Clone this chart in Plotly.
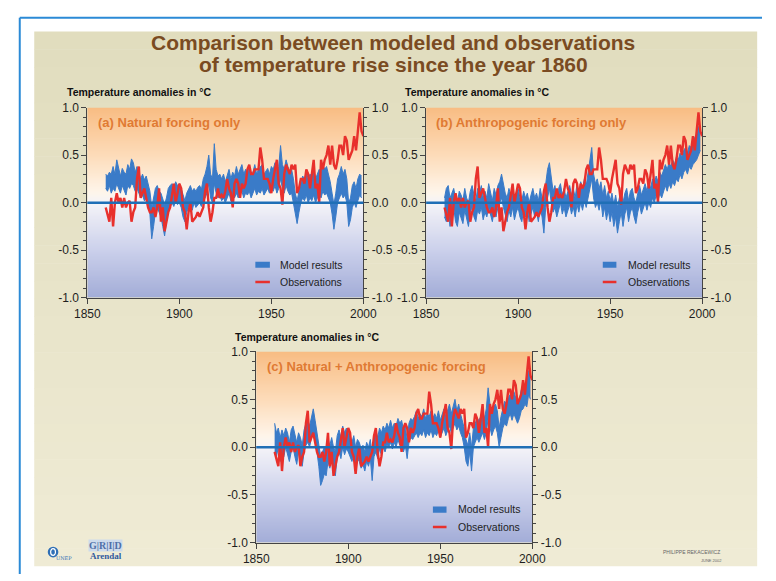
import plotly.graph_objects as go

# ---------------- data ----------------
years = list(range(1860, 2000))
obs_years = list(range(1860, 2001))

observations = [
    -0.05, -0.12, -0.20, 0.05, -0.25, 0.00, 0.10, 0.00, 0.05, -0.05,
    0.05, -0.05, 0.00, 0.02, -0.20, -0.10, -0.05, 0.25, 0.38, 0.05,
    0.10, 0.15, 0.05, -0.05, -0.10, -0.10, -0.05, -0.15, -0.05, 0.15,
    -0.20, -0.05, -0.30, -0.20, -0.10, -0.05, 0.10, 0.20, 0.00, 0.10,
    0.20, 0.15, -0.05, -0.10, -0.28, -0.10, 0.00, -0.20, -0.18, -0.15,
    -0.10, -0.15, -0.10, -0.05, 0.12, 0.20, -0.05, -0.20, -0.10, 0.05,
    0.05, 0.15, 0.05, 0.08, 0.05, 0.12, 0.25, 0.15, 0.10, -0.05,
    0.20, 0.25, 0.20, 0.05, 0.20, 0.15, 0.20, 0.35, 0.40, 0.30,
    0.30, 0.35, 0.35, 0.35, 0.58, 0.45, 0.25, 0.25, 0.25, 0.20,
    0.10, 0.25, 0.35, 0.45, 0.20, 0.15, -0.02, 0.30, 0.40, 0.35,
    0.30, 0.40, 0.35, 0.40, 0.10, 0.15, 0.25, 0.25, 0.20, 0.35,
    0.30, 0.15, 0.30, 0.45, 0.15, 0.20, 0.00, 0.45, 0.35, 0.45,
    0.50, 0.60, 0.40, 0.60, 0.40, 0.35, 0.45, 0.60, 0.60, 0.50,
    0.70, 0.65, 0.45, 0.50, 0.55, 0.70, 0.55, 0.75, 0.95, 0.75,
    0.70,
]

natural_low = [
    0.15, 0.12, 0.18, 0.10, 0.15, 0.12, 0.20, 0.15, 0.10, 0.18,
    0.12, 0.08, 0.18, 0.15, 0.20, 0.18, 0.12, 0.15, 0.10, 0.05,
    0.08, 0.02, 0.05, 0.00, -0.12, -0.38, -0.25, -0.10, -0.05, -0.10,
    -0.15, -0.25, -0.35, -0.20, -0.08, -0.05, 0.00, -0.04, 0.02, -0.02,
    0.00, -0.05, -0.15, -0.20, -0.10, -0.05, -0.02, -0.08, 0.00, -0.05,
    -0.02, 0.00, -0.04, 0.02, 0.05, 0.10, 0.20, 0.05, 0.00, 0.20,
    0.10, 0.05, 0.08, 0.02, 0.05, 0.00, 0.05, 0.10, 0.02, 0.08,
    0.05, 0.10, 0.05, 0.08, 0.12, 0.05, 0.10, 0.08, 0.12, 0.05,
    0.10, 0.15, 0.08, 0.12, 0.10, 0.15, 0.08, 0.12, 0.15, 0.10,
    0.15, 0.12, 0.18, 0.10, 0.15, 0.25, 0.15, 0.10, 0.18, 0.12,
    0.08, 0.10, 0.00, -0.10, -0.22, -0.10, 0.00, 0.05, 0.02, 0.08,
    0.00, 0.05, 0.02, 0.08, 0.00, 0.05, 0.10, 0.05, 0.12, 0.08,
    0.10, 0.05, 0.00, -0.12, -0.28, -0.15, 0.00, 0.05, 0.10, 0.05,
    0.08, 0.00, -0.25, -0.18, -0.05, 0.00, -0.05, 0.02, 0.08, 0.05,
]
natural_high = [
    0.30, 0.28, 0.32, 0.30, 0.38, 0.30, 0.45, 0.35, 0.28, 0.36,
    0.32, 0.30, 0.40, 0.35, 0.46, 0.42, 0.32, 0.38, 0.30, 0.25,
    0.30, 0.24, 0.28, 0.20, 0.12, -0.05, 0.05, 0.15, 0.18, 0.12,
    0.10, 0.05, -0.02, 0.05, 0.15, 0.18, 0.20, 0.16, 0.22, 0.18,
    0.20, 0.15, 0.08, 0.02, 0.10, 0.15, 0.18, 0.12, 0.15, 0.12,
    0.16, 0.18, 0.14, 0.25, 0.30, 0.38, 0.50, 0.30, 0.25, 0.62,
    0.35, 0.28, 0.30, 0.25, 0.30, 0.22, 0.30, 0.35, 0.25, 0.32,
    0.28, 0.38, 0.30, 0.35, 0.40, 0.30, 0.35, 0.30, 0.38, 0.28,
    0.32, 0.40, 0.30, 0.35, 0.38, 0.40, 0.30, 0.33, 0.36, 0.30,
    0.38, 0.35, 0.42, 0.32, 0.38, 0.60, 0.40, 0.35, 0.45, 0.38,
    0.32, 0.35, 0.25, 0.10, 0.02, 0.12, 0.22, 0.28, 0.25, 0.32,
    0.25, 0.30, 0.28, 0.35, 0.25, 0.30, 0.35, 0.32, 0.40, 0.35,
    0.38, 0.30, 0.22, 0.10, -0.02, 0.10, 0.25, 0.30, 0.38, 0.30,
    0.35, 0.25, 0.00, 0.05, 0.18, 0.22, 0.15, 0.25, 0.30, 0.28,
]

anthro_low = [
    -0.15, -0.20, -0.10, -0.25, -0.15, -0.05, -0.20, -0.25, -0.10, -0.15,
    -0.22, -0.08, -0.18, -0.25, -0.10, -0.05, -0.15, -0.20, -0.08, -0.12,
    -0.05, -0.18, -0.10, -0.15, -0.05, -0.12, -0.20, -0.08, -0.15, -0.05,
    0.00, 0.05, -0.05, -0.12, -0.20, -0.08, -0.15, -0.05, -0.18, -0.10,
    -0.05, -0.15, -0.20, -0.08, -0.15, -0.05, -0.20, -0.12, -0.05, -0.15,
    -0.10, -0.20, -0.05, -0.15, -0.32, -0.05, 0.05, 0.15, 0.00, -0.10,
    -0.05, -0.15, -0.08, 0.00, -0.12, -0.05, -0.15, -0.08, -0.02, -0.12,
    -0.05, -0.15, -0.02, -0.10, 0.00, -0.08, 0.02, -0.05, 0.05, 0.15,
    0.25, 0.05, -0.05, 0.00, -0.08, 0.02, -0.15, -0.05, -0.18, -0.08,
    -0.20, -0.10, -0.25, -0.15, -0.32, -0.20, -0.10, -0.25, -0.12, -0.05,
    -0.20, -0.10, -0.05, -0.15, -0.22, -0.10, -0.02, -0.12, -0.05, 0.00,
    -0.08, 0.00, -0.05, 0.05, 0.00, 0.08, 0.02, 0.10, 0.05, 0.12,
    0.18, 0.12, 0.20, 0.15, 0.22, 0.18, 0.25, 0.22, 0.30, 0.25,
    0.32, 0.35, 0.30, 0.38, 0.35, 0.40, 0.42, 0.45, 0.50, 0.55,
]
anthro_high = [
    0.05, 0.15, 0.18, 0.05, 0.10, 0.15, 0.05, 0.00, 0.12, 0.08,
    0.02, 0.15, 0.05, 0.00, 0.12, 0.18, 0.08, 0.02, 0.15, 0.10,
    0.18, 0.05, 0.12, 0.05, 0.20, 0.10, 0.02, 0.15, 0.08, 0.18,
    0.22, 0.30, 0.20, 0.10, 0.05, 0.15, 0.08, 0.15, 0.05, 0.10,
    0.15, 0.05, 0.02, 0.12, 0.05, 0.10, 0.00, 0.08, 0.15, 0.05,
    0.10, 0.02, 0.15, 0.05, -0.05, 0.20, 0.35, 0.42, 0.25, 0.12,
    0.18, 0.05, 0.15, 0.20, 0.08, 0.15, 0.05, 0.12, 0.18, 0.08,
    0.15, 0.05, 0.20, 0.10, 0.22, 0.15, 0.25, 0.18, 0.30, 0.45,
    0.58, 0.30, 0.20, 0.25, 0.15, 0.22, 0.08, 0.18, 0.05, 0.12,
    0.02, 0.10, -0.02, 0.08, -0.05, 0.05, 0.12, 0.00, 0.10, 0.15,
    0.02, 0.12, 0.15, 0.05, 0.00, 0.10, 0.18, 0.08, 0.15, 0.20,
    0.12, 0.22, 0.15, 0.25, 0.20, 0.28, 0.22, 0.32, 0.28, 0.35,
    0.40, 0.35, 0.42, 0.38, 0.45, 0.40, 0.48, 0.45, 0.52, 0.48,
    0.55, 0.58, 0.52, 0.60, 0.58, 0.65, 0.68, 0.72, 0.80, 0.78,
]

combined_low = [
    -0.05, -0.10, 0.00, -0.15, -0.05, -0.10, 0.00, -0.08, -0.15, -0.05,
    0.00, -0.10, -0.18, -0.05, -0.12, -0.20, -0.05, 0.02, 0.05, 0.00,
    0.10, 0.15, 0.05, -0.05, -0.20, -0.40, -0.35, -0.28, -0.30, -0.15,
    -0.22, -0.12, -0.25, -0.30, -0.10, -0.05, -0.12, 0.00, -0.08, -0.02,
    -0.05, -0.10, -0.15, -0.08, -0.20, -0.12, -0.15, -0.22, -0.18, -0.25,
    -0.15, -0.20, -0.12, -0.35, -0.10, -0.05, -0.12, -0.02, -0.08, 0.00,
    -0.05, 0.02, 0.00, 0.05, -0.02, 0.05, 0.00, 0.08, 0.02, 0.05,
    -0.05, 0.02, -0.12, 0.05, 0.10, 0.08, 0.12, 0.15, 0.10, 0.15,
    0.12, 0.18, 0.10, 0.15, 0.12, 0.18, 0.10, 0.15, 0.12, 0.18,
    0.10, 0.15, 0.20, 0.12, 0.18, 0.22, 0.15, 0.20, 0.25, 0.18,
    0.22, 0.15, 0.10, 0.00, -0.15, -0.20, -0.05, -0.25, 0.00, 0.05,
    0.10, 0.05, 0.10, 0.15, 0.08, 0.15, 0.30, 0.20, 0.12, 0.18,
    0.22, 0.15, 0.00, 0.10, 0.20, 0.25, 0.22, 0.30, 0.35, 0.28,
    0.35, 0.30, 0.25, 0.30, 0.38, 0.40, 0.45, 0.42, 0.55, 0.50,
]
combined_high = [
    0.25, 0.15, 0.20, 0.10, 0.18, 0.12, 0.20, 0.15, 0.05, 0.18,
    0.22, 0.12, 0.05, 0.15, 0.10, 0.02, 0.18, 0.25, 0.28, 0.22,
    0.32, 0.40, 0.28, 0.15, 0.02, -0.10, -0.05, 0.00, -0.02, 0.08,
    0.02, 0.10, 0.00, -0.05, 0.12, 0.18, 0.10, 0.22, 0.15, 0.20,
    0.15, 0.12, 0.05, 0.12, 0.00, 0.08, 0.05, -0.02, 0.02, -0.05,
    0.05, 0.00, 0.08, -0.10, 0.12, 0.18, 0.10, 0.20, 0.15, 0.22,
    0.18, 0.25, 0.20, 0.28, 0.20, 0.25, 0.22, 0.30, 0.25, 0.28,
    0.18, 0.22, 0.08, 0.25, 0.30, 0.28, 0.32, 0.38, 0.30, 0.35,
    0.32, 0.40, 0.30, 0.35, 0.32, 0.38, 0.30, 0.35, 0.30, 0.38,
    0.28, 0.35, 0.40, 0.32, 0.38, 0.45, 0.35, 0.42, 0.50, 0.38,
    0.45, 0.35, 0.28, 0.20, 0.08, 0.02, 0.15, 0.00, 0.20, 0.25,
    0.30, 0.28, 0.32, 0.38, 0.30, 0.40, 0.62, 0.45, 0.35, 0.42,
    0.45, 0.38, 0.20, 0.32, 0.42, 0.48, 0.45, 0.52, 0.55, 0.50,
    0.58, 0.52, 0.45, 0.50, 0.60, 0.62, 0.65, 0.70, 0.80, 0.75,
]

panel_titles = [
    "(a) Natural forcing only",
    "(b) Anthropogenic forcing only",
    "(c) Natural + Anthropogenic forcing",
]
y_axis_title = "Temperature anomalies in °C"
legend_labels = ["Model results", "Observations"]
y_tick_values = [-1.0, -0.5, 0.0, 0.5, 1.0]
y_tick_labels = ["-1.0", "-0.5", "0.0", "0.5", "1.0"]
x_tick_values = [1850, 1900, 1950, 2000]
x_tick_labels = ["1850", "1900", "1950", "2000"]
title_lines = [
    "Comparison between modeled and observations",
    "of temperature rise since the year 1860",
]

# ---------------- styling ----------------
W, H = 776, 581
BLUE = "#3a7bc8"
RED = "#e8302c"
ZERO = "#1f6fb6"
AXIS = "#444444"
TXT = "#1e1e1e"
FONT = "Liberation Sans, Arial, sans-serif"


def px(x):
    return x / W


def py(y):
    return 1 - y / H


panels = [
    dict(low=natural_low, high=natural_high, x0=77, x1=363, y0=103, y1=298,
         lab=(54, 87), leg=(1941.3, 1949.2, 1953.8)),
    dict(low=anthro_low, high=anthro_high, x0=428, x1=714, y0=103, y1=298,
         lab=(404, 87), leg=(1946.0, 1953.4, 1958.5)),
    dict(low=combined_low, high=combined_high, x0=252, x1=538, y0=353, y1=549,
         lab=(228, 338), leg=(1946.0, 1953.4, 1958.5)),
]

# background gradient for plot areas
grad_y = [k / 20 - 1 for k in range(41)]
bg_scale = [
    [0.0, "#a2acd7"], [0.25, "#cbd0eb"], [0.5, "#f5f4f8"],
    [0.56, "#fef5ea"], [0.75, "#fddcba"], [1.0, "#f8bd84"],
]

fig = go.Figure()
layout_axes = {}
shapes = []
annotations = []

# outer page decoration: beige panel with vertical gradient
n_strips = 30
top_c = (225, 221, 190)
bot_c = (239, 235, 213)
y_top, y_bot = 25, 573
for k in range(n_strips):
    t = k / (n_strips - 1)
    c = tuple(round(top_c[j] + (bot_c[j] - top_c[j]) * t) for j in range(3))
    ya = y_top + (y_bot - y_top) * k / n_strips
    yb = y_top + (y_bot - y_top) * (k + 1) / n_strips + 0.5
    shapes.append(dict(type="rect", xref="paper", yref="paper",
                       x0=px(22), x1=px(771), y0=py(min(yb, y_bot)), y1=py(ya),
                       fillcolor=f"rgb{c}", line=dict(width=0), layer="below"))
# blue frame lines
shapes.append(dict(type="line", xref="paper", yref="paper", x0=px(7), x1=px(7),
                   y0=0, y1=py(11), line=dict(color="#2b8ad6", width=2), layer="below"))
shapes.append(dict(type="line", xref="paper", yref="paper", x0=px(7), x1=1,
                   y0=py(11), y1=py(11), line=dict(color="#2b8ad6", width=2), layer="below"))

for i, p in enumerate(panels, start=1):
    s = "" if i == 1 else str(i)
    xr, yr, yr_right = f"x{s}", f"y{s}", f"y{i + 3}"

    fig.add_trace(go.Heatmap(
        x=[1850, 2000], y=grad_y, z=[[v, v] for v in grad_y],
        colorscale=bg_scale, zmin=-1, zmax=1, zsmooth="best",
        showscale=False, hoverinfo="skip", xaxis=xr, yaxis=yr))
    fig.add_trace(go.Scatter(
        x=years, y=p["low"], mode="lines", line=dict(color=BLUE, width=1),
        showlegend=False, hoverinfo="skip", xaxis=xr, yaxis=yr))
    fig.add_trace(go.Scatter(
        x=years, y=p["high"], mode="lines", line=dict(color=BLUE, width=1),
        fill="tonexty", fillcolor=BLUE,
        showlegend=False, hoverinfo="skip", xaxis=xr, yaxis=yr))
    fig.add_trace(go.Scatter(
        x=obs_years, y=observations, mode="lines",
        line=dict(color=RED, width=2.4),
        showlegend=False, hoverinfo="skip", xaxis=xr, yaxis=yr))
    fig.add_trace(go.Scatter(
        x=[1850], y=[0], mode="markers", marker=dict(opacity=0),
        showlegend=False, hoverinfo="skip", xaxis=xr, yaxis=yr_right))

    common_y = dict(
        range=[-1, 1], tickmode="array", tickvals=y_tick_values, ticktext=y_tick_labels,
        ticks="outside", ticklen=5, tickwidth=1, tickcolor=AXIS,
        minor=dict(tickmode="linear", tick0=0, dtick=0.1, ticks="outside",
                   ticklen=3, tickwidth=1, tickcolor=AXIS, showgrid=False),
        showline=True, linecolor=AXIS, linewidth=1,
        showgrid=False, zeroline=False, fixedrange=True,
        tickfont=dict(family=FONT, size=12, color=TXT),
    )
    layout_axes[f"xaxis{s}"] = dict(
        domain=[px(p["x0"]), px(p["x1"])], anchor=yr, range=[1850, 2000],
        tickmode="array", tickvals=x_tick_values, ticktext=x_tick_labels,
        ticks="outside", ticklen=5, tickwidth=1, tickcolor=AXIS,
        showline=True, linecolor=AXIS, linewidth=1,
        showgrid=False, zeroline=False, fixedrange=True,
        tickfont=dict(family=FONT, size=12, color=TXT),
    )
    layout_axes[f"yaxis{s}"] = dict(domain=[py(p["y1"]), py(p["y0"])], anchor=xr, **common_y)
    layout_axes[f"yaxis{i + 3}"] = dict(overlaying=yr, side="right", anchor=xr, **common_y)

    # zero line above data
    shapes.append(dict(type="line", xref=f"{xr} domain", yref=yr, x0=0, x1=1, y0=0, y1=0,
                       line=dict(color=ZERO, width=2.5), layer="above"))
    # legend
    lx0, lx1, ltx = p["leg"]
    shapes.append(dict(type="rect", xref=xr, yref=yr, x0=lx0, x1=lx1, y0=-0.685, y1=-0.62,
                       fillcolor=BLUE, line=dict(width=0), layer="above"))
    shapes.append(dict(type="line", xref=xr, yref=yr, x0=lx0, x1=lx1, y0=-0.835, y1=-0.835,
                       line=dict(color=RED, width=2.5), layer="above"))
    annotations.append(dict(xref=xr, yref=yr, x=ltx, y=-0.652, text=legend_labels[0],
                            showarrow=False, xanchor="left", yanchor="middle",
                            font=dict(family=FONT, size=10.5, color=TXT)))
    annotations.append(dict(xref=xr, yref=yr, x=ltx, y=-0.835, text=legend_labels[1],
                            showarrow=False, xanchor="left", yanchor="middle",
                            font=dict(family=FONT, size=10.5, color=TXT)))
    # panel title
    annotations.append(dict(xref=f"{xr} domain", yref=f"{yr} domain", x=0.03, y=0.923,
                            text=panel_titles[i - 1], showarrow=False,
                            xanchor="left", yanchor="middle",
                            font=dict(family=FONT, size=13, color="#e07a33", weight="bold")))
    # y axis title
    annotations.append(dict(xref="paper", yref="paper", x=px(p["lab"][0]), y=py(p["lab"][1]),
                            text=y_axis_title, showarrow=False,
                            xanchor="left", yanchor="middle",
                            font=dict(family=FONT, size=10.5, color="#111111", weight="bold")))

# main title
for text, yy in zip(title_lines, [36, 59]):
    annotations.append(dict(xref="paper", yref="paper", x=px(394), y=py(yy), text=text,
                            showarrow=False, xanchor="center", yanchor="middle",
                            font=dict(family=FONT, size=21, color="#7a4b22", weight="bold")))

# logos / credits
shapes.append(dict(type="circle", xref="paper", yref="paper", x0=px(36), x1=px(47),
                   y0=py(564), y1=py(553), fillcolor="#2f6fb6", line=dict(width=0)))
shapes.append(dict(type="circle", xref="paper", yref="paper", x0=px(39), x1=px(44),
                   y0=py(562), y1=py(555), fillcolor="rgba(0,0,0,0)",
                   line=dict(color="white", width=1.2)))
annotations.append(dict(xref="paper", yref="paper", x=px(42), y=py(570), text="UNEP",
                        showarrow=False, font=dict(family="DejaVu Serif", size=5, color="#2f6fb6")))
annotations.append(dict(xref="paper", yref="paper", x=px(78), y=py(558), text="G|R|I|D",
                        showarrow=False, bgcolor="#cddbec", borderpad=0,
                        font=dict(family="Liberation Serif", size=10, color="#4f6fa8", weight="bold")))
annotations.append(dict(xref="paper", yref="paper", x=px(78), y=py(570), text="Arendal",
                        showarrow=False,
                        font=dict(family="Liberation Serif", size=9, color="#2f5a9e", weight="bold")))
annotations.append(dict(xref="paper", yref="paper", x=px(735), y=py(564), text="PHILIPPE REKACEWICZ",
                        showarrow=False, font=dict(family=FONT, size=5, color="#666666")))
annotations.append(dict(xref="paper", yref="paper", x=px(737), y=py(572), text="JUNE 2002",
                        showarrow=False, font=dict(family=FONT, size=4, color="#666666")))

fig.update_layout(
    width=W, height=H, autosize=False,
    margin=dict(l=0, r=0, t=0, b=0, pad=0),
    paper_bgcolor="white", plot_bgcolor="rgba(0,0,0,0)",
    showlegend=False,
    shapes=shapes, annotations=annotations,
    font=dict(family=FONT),
    **layout_axes,
)

post_js = (
    "document.documentElement.style.margin='0';"
    "document.documentElement.style.padding='0';"
    "document.documentElement.style.overflow='hidden';"
    "document.body.style.margin='0';"
    "document.body.style.padding='0';"
    "document.body.style.overflow='hidden';"
    "var g=document.getElementsByClassName('plotly-graph-div')[0];"
    "if(g){g.style.position='absolute';g.style.left='0px';g.style.top='0px';}"
)

fig.write_html("out.html", config={"displayModeBar": False}, post_script=post_js)
